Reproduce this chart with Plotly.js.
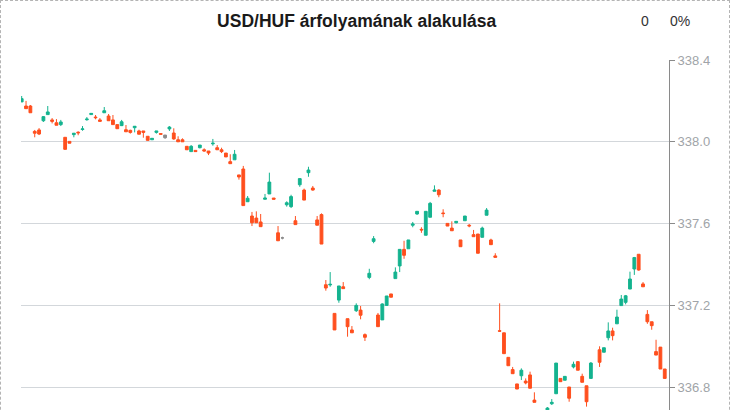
<!DOCTYPE html>
<html>
<head>
<meta charset="utf-8">
<script src="https://cdn.plot.ly/plotly-3.0.1.min.js"></script>
<style>
html,body{margin:0;padding:0;overflow:hidden;background:#fff;}
#frame{position:absolute;left:0;top:0;width:730px;height:470px;box-sizing:border-box;border:1px dashed #b4b4b4;}
#chart{width:728px;height:468px;}
</style>
</head>
<body>
<div id="frame"><div id="chart"></div></div>
<script>
// ---- data (one entry per trading slot; null = no trade) ----
const chartTitle = "USD/HUF árfolyamának alakulása";
const changeAbs = "0";
const changePct = "0%";
const yTicks = [336.8, 337.2, 337.6, 338.0, 338.4];
const yTickLabels = ["336.8", "337.2", "337.6", "338.0", "338.4"];

const opens = [338.195,338.175,338.175,338.051,338.058,338.103,338.133,338.107,338.093,338.084,
338.022,338.002,338.035,338.047,338.060,338.108,338.133,338.121,338.107,338.142,
338.126,338.107,338.084,338.079,338.059,338.056,338.069,338.053,338.053,338.027,
338.010,338.046,338.040,338.033,338.063,338.043,338.010,338.010,337.978,337.952,
337.958,337.971,337.961,337.955,337.990,337.971,337.961,337.945,337.903,337.912,
337.838,337.867,337.707,337.637,337.627,337.608,337.719,337.745,337.725,337.555,
337.530,337.692,337.683,337.614,337.790,337.764,337.849,337.774,337.618,337.644,
337.301,337.300,337.161,337.226,337.291,337.135,337.080,337.174,337.177,337.057,
337.337,337.513,337.153,337.129,337.200,337.256,337.331,337.393,337.474,337.477,
337.592,337.647,337.572,337.543,337.631,337.758,337.764,337.652,337.601,337.578,
337.604,337.520,337.614,337.592,337.546,337.549,337.533,337.641,337.520,337.442,
337.076,337.066,336.946,336.886,336.816,336.856,336.830,336.860,336.737,336.660,
336.630,336.680,336.719,336.768,336.843,336.834,336.801,336.899,336.925,336.853,
336.807,336.843,null,336.983,336.971,337.042,337.075,337.110,337.199,337.215,
337.280,337.378,337.450,337.305,337.156,337.120,336.974,336.996,336.889];

const highs = [338.224,338.200,338.180,338.058,338.067,338.126,338.175,338.116,338.111,338.107,
338.022,338.002,338.042,338.051,338.077,338.121,338.139,338.131,338.116,338.170,
338.136,338.131,338.084,338.107,338.082,338.059,338.076,338.059,338.053,338.027,
338.017,338.053,338.040,338.033,338.077,338.066,338.027,338.017,337.978,337.984,
337.958,337.984,337.968,337.955,338.014,337.984,337.971,337.945,337.939,337.960,
337.838,337.882,337.735,337.657,337.660,337.647,337.745,337.849,337.725,337.588,
337.536,337.709,337.741,337.637,337.820,337.771,337.878,337.784,337.637,337.650,
337.324,337.363,337.161,337.295,337.314,337.135,337.099,337.210,337.197,337.063,
337.379,337.539,337.163,337.210,337.246,337.256,337.386,337.474,337.516,337.520,
337.608,337.660,337.582,337.660,337.706,337.787,337.768,337.670,337.601,337.611,
337.611,337.520,337.637,337.598,337.569,337.549,337.585,337.676,337.526,337.455,
337.210,337.066,336.946,336.899,336.816,336.892,336.843,336.876,336.775,336.670,
336.670,336.703,336.742,336.918,336.843,336.853,336.801,336.925,336.928,336.866,
336.807,336.923,null,337.000,336.993,337.117,337.091,337.179,337.251,337.251,
337.365,337.437,337.450,337.314,337.177,337.120,337.032,336.996,336.889];

const lows = [338.195,338.162,338.142,338.022,338.033,338.097,338.133,338.090,338.081,338.077,
337.963,337.993,338.022,338.032,338.054,338.103,338.133,338.110,338.100,338.142,
338.103,338.084,338.064,338.077,338.049,338.040,338.046,338.037,338.020,338.007,
338.010,338.040,338.037,338.014,338.053,338.010,338.000,338.000,337.961,337.952,
337.952,337.968,337.952,337.935,337.981,337.961,337.945,337.926,337.893,337.912,
337.815,337.688,337.707,337.588,337.604,337.585,337.719,337.745,337.719,337.516,
337.523,337.683,337.676,337.595,337.780,337.715,337.829,337.761,337.592,337.500,
337.272,337.291,337.080,337.213,337.282,337.047,337.066,337.168,337.132,337.026,
337.328,337.504,337.096,337.129,337.197,337.240,337.331,337.363,337.428,337.477,
337.582,337.643,337.555,337.543,337.631,337.758,337.729,337.631,337.588,337.565,
337.601,337.487,337.614,337.582,337.536,337.455,337.533,337.641,337.497,337.435,
337.071,336.964,336.905,336.866,336.791,336.835,336.814,336.795,336.726,336.630,
336.620,336.675,336.713,336.768,336.827,336.834,336.729,336.892,336.883,336.824,
336.705,336.843,null,336.899,336.971,337.029,337.029,337.110,337.199,337.205,
337.280,337.349,337.370,337.291,337.110,337.081,336.957,336.889,336.843];

const closes = [338.211,338.162,338.142,338.042,338.038,338.123,338.146,338.100,338.081,338.097,
337.963,337.993,338.042,338.044,338.063,338.111,338.139,338.118,338.100,338.152,
338.103,338.084,338.064,338.098,338.049,338.046,338.076,338.037,338.046,338.007,
338.017,338.053,338.037,338.020,338.072,338.014,338.000,338.000,337.961,337.978,
337.952,337.984,337.955,337.945,337.993,337.961,337.952,337.926,337.893,337.939,
337.828,337.688,337.724,337.604,337.604,337.585,337.725,337.803,337.719,337.516,
337.530,337.702,337.732,337.595,337.820,337.715,337.862,337.764,337.592,337.500,
337.285,337.303,337.080,337.295,337.282,337.096,337.066,337.200,337.152,337.044,
337.357,337.526,337.096,337.207,337.246,337.240,337.363,337.474,337.445,337.520,
337.598,337.660,337.569,337.660,337.699,337.764,337.741,337.649,337.588,337.565,
337.611,337.487,337.637,337.589,337.536,337.455,337.578,337.666,337.497,337.435,
337.074,336.964,336.905,336.866,336.791,336.883,336.821,336.795,336.726,336.640,
336.660,336.698,336.726,336.918,336.827,336.853,336.746,336.912,336.883,336.824,
336.729,336.918,null,336.922,336.993,337.075,337.052,337.143,337.231,337.247,
337.329,337.434,337.373,337.291,337.120,337.101,336.957,336.889,336.843];

// slots drawn in the neutral (grey) colour
const neutralIdx = [33, 60];

// ---- build traces ----
const slots = opens.map((_, i) => i);
const isNeutral = i => neutralIdx.indexOf(i) >= 0;
const mask = arr => arr.map((v, i) => isNeutral(i) ? null : v);
const pick = arr => neutralIdx.map(i => arr[i]);

const UP = '#14b38f', DOWN = '#ff4f1e', FLAT = '#8c8c8c';

const main = {
  type: 'candlestick', x: slots,
  open: mask(opens), high: mask(highs), low: mask(lows), close: mask(closes),
  increasing: {line: {color: UP, width: 1}, fillcolor: UP},
  decreasing: {line: {color: DOWN, width: 1}, fillcolor: DOWN},
  whiskerwidth: 0, hoverinfo: 'skip', showlegend: false
};
const neutral = {
  type: 'candlestick', x: neutralIdx,
  open: pick(opens), high: pick(highs), low: pick(lows), close: pick(closes),
  increasing: {line: {color: FLAT, width: 1}, fillcolor: FLAT},
  decreasing: {line: {color: FLAT, width: 1}, fillcolor: FLAT},
  whiskerwidth: 0, hoverinfo: 'skip', showlegend: false
};

const font = '"Liberation Sans", Arial, sans-serif';
const layout = {
  width: 728, height: 468,
  margin: {l: 20, r: 60, t: 59, b: 18},
  paper_bgcolor: '#fff', plot_bgcolor: '#fff',
  boxgap: 0.08,
  font: {family: font, color: '#333'},
  title: {
    text: '<b>' + chartTitle + '</b>',
    font: {family: font, size: 17.5, color: '#1a1a1a'},
    xref: 'container', x: 355.7 / 728, xanchor: 'center',
    yref: 'container', y: 1 - 20 / 468, yanchor: 'middle'
  },
  xaxis: {
    range: [-0.16, slots.length - 1 + 0.98],
    rangeslider: {visible: false},
    showgrid: false, zeroline: false, showline: false,
    showticklabels: false, ticks: '', fixedrange: true
  },
  yaxis: {
    side: 'right',
    range: [338.4 - 391 / 204.5, 338.4],
    tickmode: 'array', tickvals: yTicks, ticktext: yTickLabels,
    showgrid: true, gridcolor: '#d3d7db', gridwidth: 1,
    zeroline: false,
    showline: true, linecolor: '#8a8a8a', linewidth: 1,
    ticks: 'outside', ticklen: 5, tickcolor: '#8a8a8a',
    tickfont: {family: font, size: 13, color: '#a0a4a8'},
    fixedrange: true
  },
  annotations: [
    {text: changeAbs, xref: 'paper', yref: 'paper', x: (645 - 21) / 648, y: 1 + 39 / 391,
     xanchor: 'center', yanchor: 'middle', showarrow: false,
     font: {family: font, size: 14, color: '#333'}},
    {text: changePct, xref: 'paper', yref: 'paper', x: (680 - 21) / 648, y: 1 + 39 / 391,
     xanchor: 'center', yanchor: 'middle', showarrow: false,
     font: {family: font, size: 14, color: '#333'}}
  ]
};

Plotly.newPlot('chart', [main, neutral], layout, {staticPlot: true, displayModeBar: false});
</script>
</body>
</html>
